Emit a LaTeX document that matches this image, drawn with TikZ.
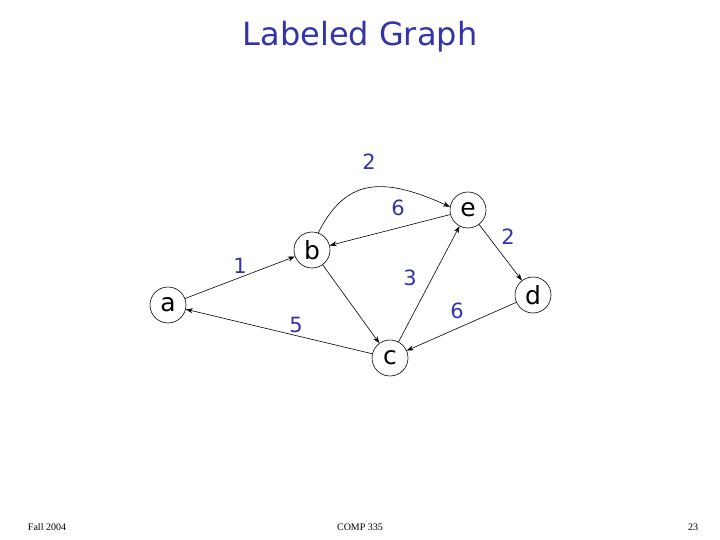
\documentclass[tikz,border=0pt]{standalone}
\usepackage{fontspec}
\setsansfont{DejaVu Sans}
\newfontfamily\footfont{Liberation Serif}
\usetikzlibrary{arrows.meta}
\definecolor{lblue}{RGB}{51,51,170}
\begin{document}
\begin{tikzpicture}[x=1pt,y=-1pt,
  vert/.style={circle,draw,semithick,minimum size=36pt,inner sep=0pt,font=\sffamily\fontsize{25}{25}\selectfont},
  edge/.style={-{Stealth[length=7pt,width=5pt]},semithick},
  wlab/.style={text=lblue,font=\sffamily\fontsize{21}{21}\selectfont},
  foot/.style={font=\footfont\fontsize{10}{10}\selectfont}]
\useasboundingbox (0,0) rectangle (720,540);
\node[text=lblue,font=\sffamily\fontsize{32}{32}\selectfont] (title) at (360,37) {Labeled Graph};
\node[vert] (a) at (168,305) {a};
\node[vert] (b) at (312,250) {b};
\node[vert] (e) at (468,210) {e};
\node[vert] (d) at (533,295) {d};
\node[vert] (c) at (390,358) {c};
\draw[edge] (a) -- (b);
\draw[edge] (b.70) .. controls (345,180) and (380,175) .. (e.170);
\draw[edge] (e) -- (b);
\draw[edge] (b) -- (c);
\draw[edge] (c) -- (e);
\draw[edge] (c) -- (a);
\draw[edge] (e) -- (d);
\draw[edge] (d) -- (c);
\node[wlab] (l1) at (369,162) {2};
\node[wlab] (l2) at (398,208) {6};
\node[wlab] (l3) at (240,266) {1};
\node[wlab] (l4) at (410,278) {3};
\node[wlab] (l5) at (296,325) {5};
\node[wlab] (l6) at (457,311) {6};
\node[wlab] (l7) at (508,237) {2};
\node[foot] (f1) at (47,527) {Fall 2004};
\node[foot] (f2) at (360,527) {COMP 335};
\node[foot] (f3) at (693,527) {23};
\end{tikzpicture}
\end{document}
